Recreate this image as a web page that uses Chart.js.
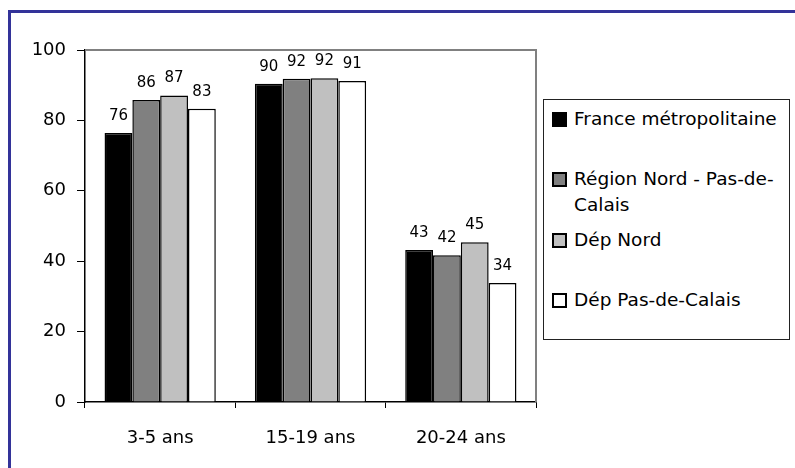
<!DOCTYPE html>
<html>
<head>
<meta charset="utf-8">
<script src="https://cdn.jsdelivr.net/npm/chart.js@4/dist/chart.umd.min.js"></script>
<style>
  html, body { margin: 0; padding: 0; background: #fff; }
  body { width: 795px; height: 468px; position: relative; overflow: hidden; font-family: "DejaVu Sans", sans-serif; }
  #cadre { position: absolute; left: 8px; top: 10px; width: 900px; height: 600px; border-left: 3px solid #333399; border-top: 3px solid #333399; }
  #graphe { position: absolute; left: 0; top: 0; }
  #legende { position: absolute; left: 543px; top: 99px; width: 247px; height: 241px; border: 1px solid #222; box-sizing: border-box; background: #fff; }
  .item { position: absolute; left: 8px; width: 240px; font-size: 18.5px; line-height: 26px; color: #000; }
  .carre { position: absolute; left: 0; top: 6px; width: 15px; height: 15px; box-sizing: border-box; border: 2px solid #000; }
  .texte { position: absolute; left: 22px; width: 214px; }
</style>
</head>
<body>
<div id="cadre"></div>
<canvas id="graphe" width="795" height="468"></canvas>
<div id="legende"></div>
<script>
const categories = ["3-5 ans", "15-19 ans", "20-24 ans"];
const series = ["France métropolitaine", "Région Nord - Pas-de-Calais", "Dép Nord", "Dép Pas-de-Calais"];
const franceMetro = [76.4, 90.4, 43.2];
const regionNPDC = [85.8, 91.8, 41.7];
const depNord = [87.1, 92.0, 45.4];
const depPasDeCalais = [83.3, 91.2, 33.8];
const yTicks = [0, 20, 40, 60, 80, 100];

const valeurs = [franceMetro, regionNPDC, depNord, depPasDeCalais];
const couleurs = ["#000000", "#808080", "#c0c0c0", "#ffffff"];

// legende html (le libelle long passe sur deux lignes)
const legende = document.getElementById("legende");
series.forEach((nom, i) => {
  const item = document.createElement("div");
  item.className = "item";
  item.style.top = (6 + i * 60.3) + "px";
  item.innerHTML = `<div class="carre" style="background:${couleurs[i]}"></div><div class="texte">${nom}</div>`;
  legende.appendChild(item);
});

const bordPlot = {
  id: "bordPlot",
  beforeDatasetsDraw(chart) {
    const {ctx, chartArea: a} = chart;
    ctx.save();
    ctx.strokeStyle = "#808080";
    ctx.lineWidth = 2;
    ctx.beginPath();
    ctx.moveTo(a.left, a.top);
    ctx.lineTo(a.right, a.top);
    ctx.lineTo(a.right, a.bottom);
    ctx.stroke();
    ctx.restore();
  }
};

const etiquettes = {
  id: "etiquettes",
  afterDatasetsDraw(chart) {
    const ctx = chart.ctx;
    ctx.save();
    ctx.font = "15px 'DejaVu Sans'";
    ctx.fillStyle = "#000";
    ctx.textAlign = "center";
    ctx.textBaseline = "alphabetic";
    chart.data.datasets.forEach((ds, i) => {
      chart.getDatasetMeta(i).data.forEach((bar, j) => {
        ctx.fillText(Math.round(ds.data[j]), bar.x, bar.y - 13);
      });
    });
    ctx.restore();
  }
};

new Chart(document.getElementById("graphe"), {
  type: "bar",
  data: {
    labels: categories,
    datasets: series.map((nom, i) => ({
      label: nom,
      data: valeurs[i],
      backgroundColor: couleurs[i],
      borderColor: "#000",
      borderWidth: 1.5,
      barPercentage: 1,
      categoryPercentage: 0.74
    }))
  },
  options: {
    responsive: false,
    animation: false,
    layout: { padding: { left: 0, top: 50, right: 259, bottom: 20 } },
    plugins: { legend: { display: false }, tooltip: { enabled: false } },
    scales: {
      x: {
        afterFit: s => { s.height = 46; },
        grid: { offset: true, drawOnChartArea: false, drawTicks: true, tickLength: 6, color: "#000" },
        border: { color: "#000", width: 1.5 },
        ticks: { color: "#000", font: { family: "DejaVu Sans", size: 18 }, padding: 20 }
      },
      y: {
        min: 0,
        max: 100,
        afterFit: s => { s.width = 85; },
        afterBuildTicks: s => { s.ticks = yTicks.map(v => ({ value: v })); },
        grid: { drawOnChartArea: false, drawTicks: true, tickLength: 8, color: "#000" },
        border: { color: "#000", width: 1.5 },
        ticks: { color: "#000", font: { family: "DejaVu Sans", size: 18 }, padding: 11 }
      }
    }
  },
  plugins: [bordPlot, etiquettes]
});
</script>
</body>
</html>
